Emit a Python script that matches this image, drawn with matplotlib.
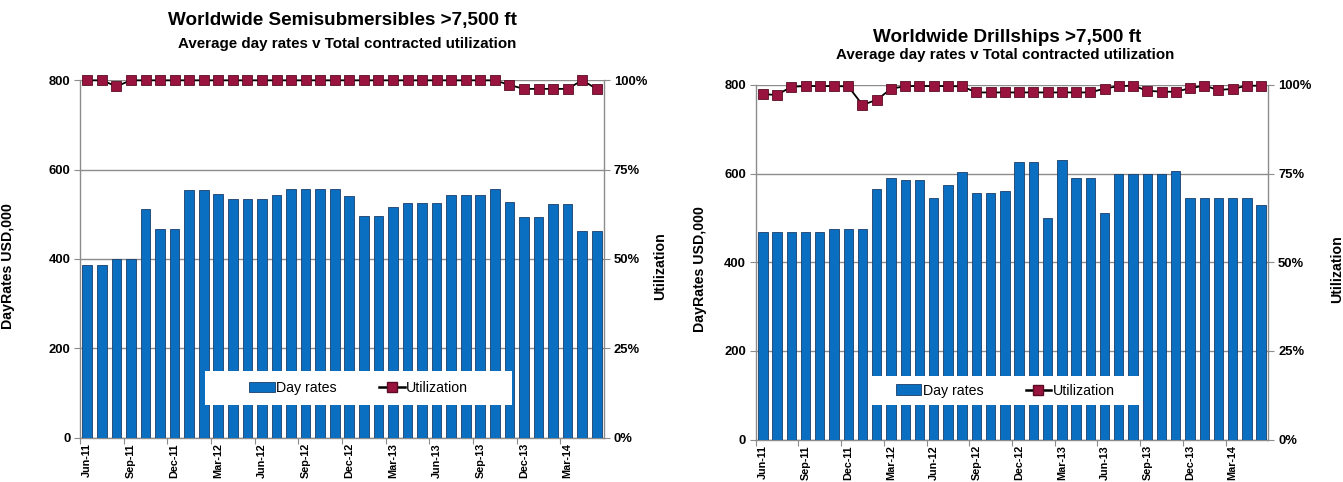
import matplotlib
matplotlib.use("Agg")
import matplotlib.pyplot as plt
from matplotlib import font_manager as fm
from matplotlib.ticker import FuncFormatter, FixedLocator
from matplotlib.lines import Line2D
from matplotlib.patches import Patch, Rectangle

# ---------------------------------------------------------------- data
months = [
    "Jun-11", "Jul-11", "Aug-11", "Sep-11", "Oct-11", "Nov-11", "Dec-11", "Jan-12", "Feb-12",
    "Mar-12", "Apr-12", "May-12", "Jun-12", "Jul-12", "Aug-12", "Sep-12", "Oct-12", "Nov-12",
    "Dec-12", "Jan-13", "Feb-13", "Mar-13", "Apr-13", "May-13", "Jun-13", "Jul-13", "Aug-13",
    "Sep-13", "Oct-13", "Nov-13", "Dec-13", "Jan-14", "Feb-14", "Mar-14", "Apr-14", "May-14",
]

semi_rates = [
    387, 387, 400, 400, 511, 466, 466, 555, 555, 546, 534, 534,
    534, 542, 557, 557, 557, 557, 540, 497, 497, 517, 525, 525,
    525, 542, 542, 542, 557, 528, 494, 494, 522, 522, 462, 462,
]
semi_util = [
    1.000, 1.000, 0.983, 1.000, 1.000, 1.000, 1.000, 1.000, 1.000, 1.000, 1.000, 1.000,
    1.000, 1.000, 1.000, 1.000, 1.000, 1.000, 1.000, 1.000, 1.000, 1.000, 1.000, 1.000,
    1.000, 1.000, 1.000, 1.000, 1.000, 0.987, 0.976, 0.976, 0.976, 0.976, 1.000, 0.976,
]

ship_rates = [
    469, 469, 469, 469, 469, 475, 475, 475, 565, 590, 586, 586,
    544, 575, 604, 557, 557, 560, 626, 626, 500, 630, 590, 590,
    511, 599, 599, 599, 599, 605, 545, 545, 545, 545, 545, 529,
]
ship_util = [
    0.974, 0.972, 0.995, 0.997, 0.997, 0.997, 0.996, 0.944, 0.958, 0.989, 0.997, 0.997,
    0.997, 0.997, 0.996, 0.979, 0.979, 0.979, 0.979, 0.979, 0.979, 0.979, 0.979, 0.979,
    0.990, 0.997, 0.998, 0.984, 0.981, 0.981, 0.991, 0.998, 0.986, 0.989, 0.998, 0.998,
]

titles = ["Worldwide Semisubmersibles >7,500 ft", "Worldwide Drillships >7,500 ft"]
subtitle = "Average day rates v Total contracted utilization"
rate_ticks = [0, 200, 400, 600, 800]
util_ticks = [0, 0.25, 0.5, 0.75, 1.0]

# ---------------------------------------------------------------- style
names = {f.name for f in fm.fontManager.ttflist}
FONT = "Liberation Sans Narrow" if "Liberation Sans Narrow" in names else "Liberation Sans"
plt.rcParams["font.family"] = [FONT, "DejaVu Sans"]

BAR_BLUE = "#0B6FC1"
BAR_EDGE = "#1C3E6A"
MARKER_RED = "#99133F"
GRID = "#8C8C8C"

W, H = 1343, 482
fig = plt.figure(figsize=(W / 100, H / 100), dpi=100)
fig.patch.set_facecolor("white")


def px_axes(x0, x1, ytop, ybot):
    return fig.add_axes([x0 / W, 1 - ybot / H, (x1 - x0) / W, (ybot - ytop) / H])


def draw_panel(ax, rates, util, title, title_xy, sub_xy, legend_box, lab_left_x, lab_right_x):
    n = len(rates)
    xs = list(range(n))

    ax.set_zorder(1)
    ax.bar(xs, rates, width=0.66, color=BAR_BLUE, edgecolor=BAR_EDGE, linewidth=0.6, zorder=3)
    ax.set_xlim(-0.5, n - 0.5)
    ax.set_ylim(0, 800)
    ax.yaxis.set_major_locator(FixedLocator(rate_ticks))
    ax.grid(axis="y", color=GRID, linewidth=1.0, zorder=0)
    ax.set_axisbelow(True)

    # category labels every three months, tick marks on the category borders
    ax.set_xticks([i - 0.5 for i in range(0, n, 3)])
    ax.set_xticklabels([])
    ax.set_xticks(xs[::3], minor=True)
    ax.set_xticklabels(months[::3], minor=True, rotation=90, fontsize=7.8,
                       fontweight="bold")
    ax.tick_params(axis="x", which="minor", length=0, pad=4)
    ax.tick_params(axis="x", which="major", length=4, color=GRID, direction="out")
    ax.tick_params(axis="y", length=4, color=GRID, labelsize=9.4, pad=3)
    for lab in ax.get_yticklabels():
        lab.set_fontweight("bold")

    for side in ("left", "right", "bottom"):
        ax.spines[side].set_color(GRID)
        ax.spines[side].set_linewidth(1.0)
    ax.spines["top"].set_visible(False)

    ax.set_ylabel("DayRates USD,000", fontsize=10.2, fontweight="bold")
    ax.yaxis.set_label_coords(lab_left_x, 0.48)

    ax2 = ax.twinx()
    ax2.set_zorder(2)
    ax2.plot(xs, util, color="black", linewidth=1.3, marker="s", markersize=7.2,
             markerfacecolor=MARKER_RED, markeredgecolor="#5A0C24", markeredgewidth=0.6,
             zorder=4, clip_on=False)
    ax2.set_ylim(0, 1.0)
    ax2.yaxis.set_major_locator(FixedLocator(util_ticks))
    ax2.yaxis.set_major_formatter(FuncFormatter(lambda v, _: f"{v:.0%}"))
    ax2.tick_params(axis="y", length=4, color=GRID, labelsize=9.4, pad=3)
    for lab in ax2.get_yticklabels():
        lab.set_fontweight("bold")
    for sp in ax2.spines.values():
        sp.set_visible(False)
    ax2.set_ylabel("Utilization", fontsize=10.2, fontweight="bold")
    ax2.yaxis.set_label_coords(lab_right_x, 0.48)

    # white legend panel over the bars
    x0, y0, x1, y1 = legend_box
    ax2.add_patch(Rectangle((x0, y0), x1 - x0, y1 - y0, transform=ax2.transAxes,
                            facecolor="white", edgecolor="none", zorder=5, clip_on=False))
    handles = [
        Patch(facecolor=BAR_BLUE, edgecolor=BAR_EDGE, linewidth=0.6),
        Line2D([], [], color="black", linewidth=1.8, marker="s", markersize=6.5,
               markerfacecolor=MARKER_RED, markeredgecolor="#5A0C24"),
    ]
    leg = ax2.legend(handles, ["Day rates", "Utilization"], loc="center",
                     bbox_to_anchor=((x0 + x1) / 2, (y0 + y1) / 2), ncol=2, frameon=False,
                     fontsize=10.2, handlelength=1.8, handleheight=0.75, handletextpad=0.1,
                     columnspacing=3.0)
    leg.set_zorder(6)

    fig.text(title_xy[0] / W, 1 - title_xy[1] / H, title, ha="center", va="center",
             fontsize=13.6, fontweight="bold")
    fig.text(sub_xy[0] / W, 1 - sub_xy[1] / H, subtitle, ha="center", va="center",
             fontsize=10.9, fontweight="bold")
    return ax, ax2


ax_l = px_axes(80, 604, 80.3, 437.5)
draw_panel(ax_l, semi_rates, semi_util, titles[0], (342, 21), (347, 44),
           (0.239, 0.091, 0.824, 0.186), -0.124, 1.093)

ax_r = px_axes(755.7, 1268.3, 85, 439.5)
draw_panel(ax_r, ship_rates, ship_util, titles[1], (1007, 37), (1005, 55),
           (0.223, 0.097, 0.75, 0.179), -0.095, 1.12)

fig.savefig("out.png", dpi=100, facecolor="white")
